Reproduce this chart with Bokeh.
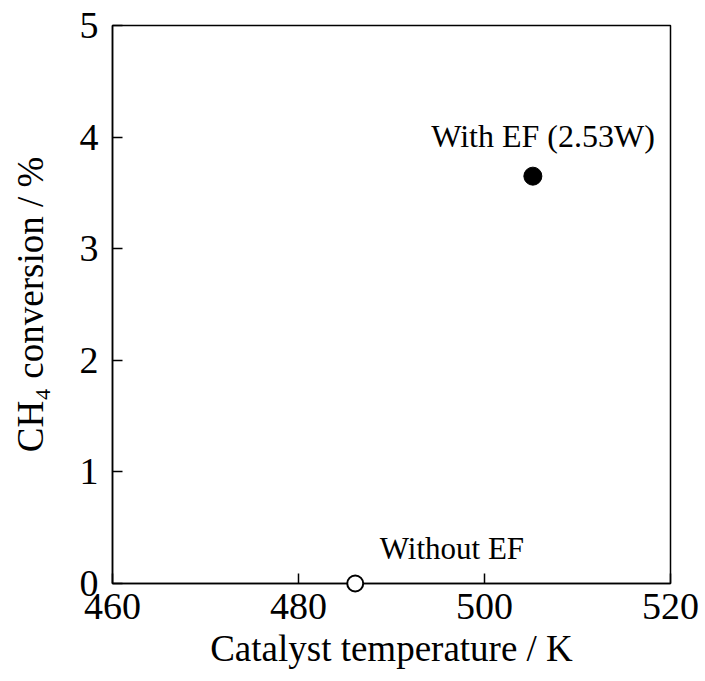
from bokeh.plotting import figure
from bokeh.models import ColumnDataSource, Label, FixedTicker
from bokeh.embed import file_html
from bokeh.resources import INLINE

# Data
with_ef_temp = [505.2]
with_ef_conv = [3.65]
without_ef_temp = [486.1]
without_ef_conv = [0.0]
x_ticks = [460, 480, 500, 520]
y_ticks = [0, 1, 2, 3, 4, 5]

FONT = "Liberation Serif"

p = figure(width=705, height=681, output_backend="svg", toolbar_location=None,
           x_range=(460, 520), y_range=(0, 5))
p.min_border_left = 112
p.min_border_right = 35
p.min_border_top = 25
p.min_border_bottom = 98
p.grid.visible = False
p.outline_line_color = "black"
p.outline_line_width = 1.5
p.background_fill_color = "white"
p.border_fill_color = "white"

for ax in (p.xaxis[0], p.yaxis[0]):
    ax.major_tick_in = 10
    ax.major_tick_out = 0
    ax.minor_tick_line_color = None
    ax.axis_line_color = "black"
    ax.axis_line_width = 1.5
    ax.major_tick_line_width = 1.5
    ax.major_label_text_font = FONT
    ax.major_label_text_font_size = "38px"
    ax.major_label_text_color = "black"
    ax.axis_label_text_font = FONT
    ax.axis_label_text_font_size = "37px"
    ax.axis_label_text_font_style = "normal"
    ax.axis_label_text_color = "black"

p.xaxis.ticker = FixedTicker(ticks=x_ticks)
p.yaxis.ticker = FixedTicker(ticks=y_ticks)
p.xaxis.major_label_standoff = 10
p.yaxis.major_label_standoff = 14
p.xaxis.axis_label = "Catalyst temperature / K"
p.yaxis.axis_label = "CH\u2084 conversion / %"
p.xaxis.axis_label_standoff = 6
p.yaxis.axis_label_standoff = 26

src_with = ColumnDataSource(dict(x=with_ef_temp, y=with_ef_conv))
src_without = ColumnDataSource(dict(x=without_ef_temp, y=without_ef_conv))

p.scatter("x", "y", source=src_with, size=18, fill_color="black", line_color="black")
p.scatter("x", "y", source=src_without, size=16, fill_color="white", line_color="black",
          line_width=2, level="overlay")

p.add_layout(Label(x=with_ef_temp[0] + 1.1, y=with_ef_conv[0], y_offset=40, text="With EF (2.53W)",
                   text_font=FONT, text_font_size="32px", text_align="center",
                   text_baseline="alphabetic", text_color="black"))
p.add_layout(Label(x=without_ef_temp[0] + 10.4, y=without_ef_conv[0], y_offset=35, text="Without EF",
                   text_font=FONT, text_font_size="31px", text_align="center",
                   text_baseline="alphabetic", text_color="black"))

open("out.html", "w").write(file_html(p, INLINE))
